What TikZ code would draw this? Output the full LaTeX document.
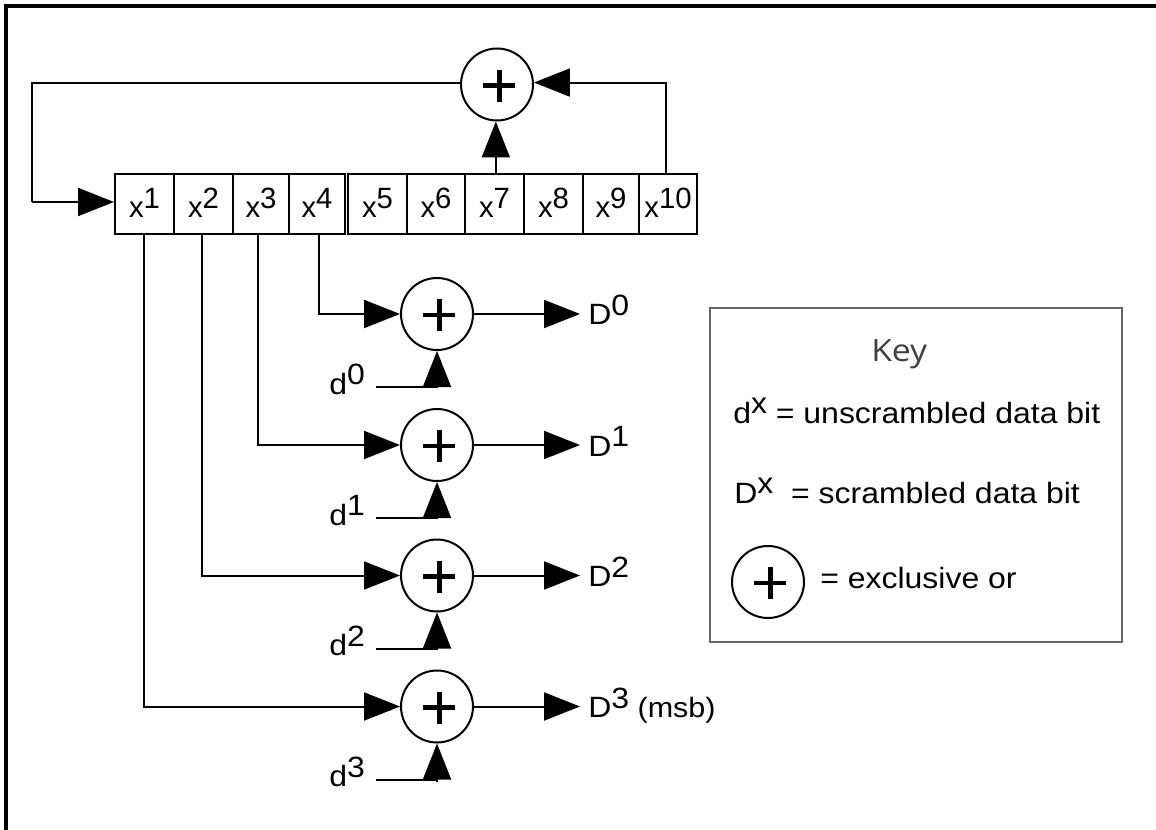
\documentclass[tikz,border=0pt]{standalone}
\usepackage{fontspec}
\setmainfont[FakeStretch=1.09]{Liberation Sans}
\newfontfamily\cellfont{Liberation Sans}
\newfontfamily\keyfont[FakeStretch=1.1]{Open Sans}
\usetikzlibrary{arrows.meta,calc}
\newcommand{\raisedsup}[1]{\raisebox{7pt}{#1}}
\tikzset{
  px/.style={x=0.75pt,y=-0.75pt},
  wire/.style={draw=black,line width=1.5pt},
  arr/.style={wire,-{Triangle[length=27pt,width=21pt]}},
  cell/.style={draw=black,line width=1.5pt,minimum height=45pt,inner sep=0pt,text height=21pt,text depth=0pt,font=\fontsize{22}{26}\selectfont\cellfont},
  xorgate/.style={circle,draw=black,fill=white,line width=1.5pt,minimum size=54pt,inner sep=0pt,
    path picture={\fill[black] ($(path picture bounding box.center)+(-10.2pt,-2.6pt)$) rectangle ++(24pt,3.6pt);
                  \fill[black] ($(path picture bounding box.center)+(0pt,-12.8pt)$) rectangle ++(3.6pt,24pt);}},
  lbl/.style={anchor=base west,inner xsep=0pt,inner ysep=0pt,font=\fontsize{22}{26}\selectfont},
  outlbl/.style={lbl,inner xsep=6pt}
}
\begin{document}
\begin{tikzpicture}[px]
\useasboundingbox (0,0) rectangle (1156,830);
\draw[line width=3pt] (6,830) -- (6,6) -- (1156,6);

\node[xorgate] (top) at (497,84.5) {};
\node[cell,minimum width=44.25pt] (x1) at (144.5,204) {x\raisedsup{1}};
\node[cell,minimum width=44.25pt] (x2) at (203.5,204) {x\raisedsup{2}};
\node[cell,minimum width=42pt] (x3) at (261,204) {x\raisedsup{3}};
\node[cell,minimum width=42pt] (x4) at (317,204) {x\raisedsup{4}};
\node[cell,minimum width=44.25pt] (x5) at (377.5,204) {x\raisedsup{5}};
\node[cell,minimum width=43.5pt] (x6) at (436,204) {x\raisedsup{6}};
\node[cell,minimum width=44.25pt] (x7) at (494.5,204) {x\raisedsup{7}};
\node[cell,minimum width=44.25pt] (x8) at (553.5,204) {x\raisedsup{8}};
\node[cell,minimum width=42pt] (x9) at (611,204) {x\raisedsup{9}};
\node[cell,minimum width=43.5pt] (x10) at (668,204) {x\raisedsup{10}};

\coordinate (fbkin) at (32,202);
\draw[wire] (top.177) -- (top.177 -| fbkin) -- (fbkin);
\draw[arr] (fbkin) -- (x1.west |- fbkin);
\draw[arr] ([xshift=-1.5pt]x10.north) |- (top.3);
\draw[arr] ([xshift=1pt]x7.north) -- ([xshift=1pt]top.south -| x7.north);

\foreach \n/\y/\cellname/\dx in {0/314/x4/1.5pt,1/445/x3/-2.25pt,2/575.5/x2/-1.1pt,3/706.5/x1/-0.4pt}{
  \node[xorgate] (c\n) at (437,\y) {};
  \node[outlbl] (D\n) at (580,\y+11) {D\raisedsup{\n}\ifnum\n=3 {\fontsize{21}{25}\selectfont\ (msb)}\fi};
  \node[lbl] (d\n) at (329,\y+80) {d\raisedsup{\n}};
  \coordinate (ds\n) at (376,\y+73);
  \draw[arr] ([xshift=\dx]\cellname.south) |- (c\n.west);
  \draw[arr] (c\n.east) -- (D\n.west |- c\n.east);
  \draw[arr] (ds\n) -| (c\n.south);
}
\coordinate (dtick) at (437,782);
\draw[wire] (ds3 -| c3.south) -- (dtick);

\node[draw=black!60,line width=1.5pt,minimum width=309pt,minimum height=250.5pt,inner sep=0pt] (keybox) at (916,475) {};
\node[lbl,text=black!75,font=\fontsize{23}{27}\selectfont\keyfont] (keytitle) at (871,362) {Key};
\node[lbl] (kd) at (733,423) {d\raisedsup{x} = unscrambled data bit};
\node[lbl] (kD) at (734,503) {D\raisedsup{x}\ \ = scrambled data bit};
\node[xorgate] (kx) at (768,582) {};
\node[lbl] (kxt) at (820,588) {= exclusive or};
\end{tikzpicture}
\end{document}
